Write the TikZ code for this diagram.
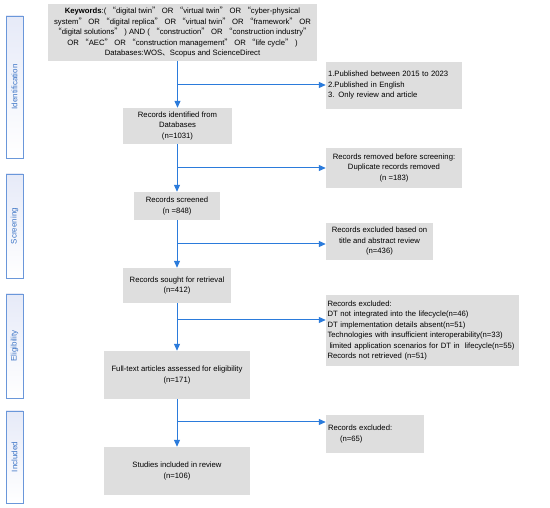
\documentclass[tikz,border=0pt]{standalone}
\usepackage{fontspec}
\setmainfont{Liberation Sans}
\newfontfamily\cjkfont{Noto Sans CJK SC}
\usetikzlibrary{arrows.meta,calc}
\newcommand{\qo}{{\cjkfont “}}
\newcommand{\qc}{{\cjkfont ”}}
\newcommand{\ideocomma}{{\cjkfont 、}}
\definecolor{boxgrey}{HTML}{DEDEDE}
\definecolor{flowblue}{HTML}{2B7BDB}
\definecolor{sideblue}{HTML}{6A97DA}
\definecolor{sidetext}{HTML}{3B74C6}
\definecolor{sidetop}{HTML}{E6EAF8}
\tikzset{
  box/.style={fill=boxgrey, draw=none, inner sep=2pt, align=center,
    font=\fontsize{7.7}{10.5}\selectfont},
  side/.style={draw=sideblue, line width=0.7pt, top color=sidetop, bottom color=white,
    minimum width=17pt, inner sep=0pt, text=sidetext,
    font=\fontsize{8}{9}\selectfont},
  flow/.style={draw=flowblue, line width=1pt, -{Triangle[length=7pt,width=6pt]}}
}
\begin{document}
\begin{tikzpicture}[x=1pt,y=-1pt]
\useasboundingbox (0,0) rectangle (550,508);
% side bars
\node[side, minimum height=142pt] (sid) at (14.5,87) {\rotatebox{90}{Identification}};
\node[side, minimum height=104pt] (sscr) at (14.5,226) {\rotatebox{90}{Screening}};
\node[side, minimum height=104pt] (selig) at (14.5,346) {\rotatebox{90}{Eligibility}};
\node[side, minimum height=92pt] (sinc) at (14.5,457) {\rotatebox{90}{Included}};
% main column
\node[box, minimum width=269pt, minimum height=57pt] (kw) at (182.5,32.5) {%
\textbf{Keywords}:( \qo digital twin\qc\ OR \qo virtual twin\qc\ OR \qo cyber-physical\\
system\qc\ OR \qo digital replica\qc\ OR \qo virtual twin\qc\ OR \qo framework\qc\ OR\\
\qo digital solutions\qc\ ) AND ( \qo construction\qc\ OR \qo construction industry\qc\\
OR \qo AEC\qc\ OR \qo construction management\qc\ OR \qo life cycle\qc\ )\\
Databases:WOS\ideocomma Scopus and ScienceDirect};
\node[box, minimum width=109pt, minimum height=36pt] (rid) at (177.5,126) {Records identified from\\Databases\\(n=1031)};
\node[box, minimum width=86pt, minimum height=28pt] (scr) at (177,206) {Records screened\\(n =848)};
\node[box, minimum width=108pt, minimum height=35pt] (sought) at (177,285.5) {Records sought for retrieval\\(n=412)};
\node[box, minimum width=146pt, minimum height=48pt] (full) at (177,375) {Full-text articles assessed for eligibility\\(n=171)};
\node[box, minimum width=146pt, minimum height=48pt] (stud) at (177,471) {Studies included in review\\(n=106)};
% right column
\node[box, minimum width=136pt, minimum height=47pt, text width=132pt, align=left] (crit) at (394,85.5) {1.Published between 2015 to 2023\\2.Published in English\\3. Only review and article};
\node[box, minimum width=136pt, minimum height=40pt] (dup) at (394,168) {Records removed before screening:\\Duplicate records removed\\(n =183)};
\node[box, minimum width=107pt, minimum height=37pt] (title) at (379.5,241.5) {Records excluded based on\\title and abstract review\\(n=436)};
\node[box, minimum width=193pt, minimum height=71pt, text width=190pt, inner sep=1.5pt, align=left] (excl) at (422.5,330.5) {Records excluded:\\DT not integrated into the lifecycle(n=46)\\DT implementation details absent(n=51)\\Technologies with insufficient interoperability(n=33)\\\mbox{\hspace*{2pt}limited application scenarios for DT in\ \ lifecycle(n=55)}\\Records not retrieved (n=51)};
\node[box, minimum width=98pt, minimum height=38pt, text width=94pt, align=left] (ex65) at (375,434) {Records excluded:\\\hspace*{12pt}(n=65)\\[8pt]};
% branch points
\coordinate (b1) at (177,85);
\coordinate (b2) at (177,168);
\coordinate (b3) at (177,244);
\coordinate (b4) at (177,320);
\coordinate (b5) at (177,422);
% vertical flow
\draw[flow] (kw.south -| rid.north) -- (rid.north);
\draw[flow] (rid.south -| scr.north) -- (scr.north);
\draw[flow] (scr.south -| sought.north) -- (sought.north);
\draw[flow] (sought.south -| full.north) -- (full.north);
\draw[flow] (full.south -| stud.north) -- (stud.north);
% side branches
\draw[flow] (b1) -- (b1 -| crit.west);
\draw[flow] (b2) -- (b2 -| dup.west);
\draw[flow] (b3) -- (b3 -| title.west);
\draw[flow] (b4) -- (b4 -| excl.west);
\draw[flow] (b5) -- (b5 -| ex65.west);
\end{tikzpicture}
\end{document}
